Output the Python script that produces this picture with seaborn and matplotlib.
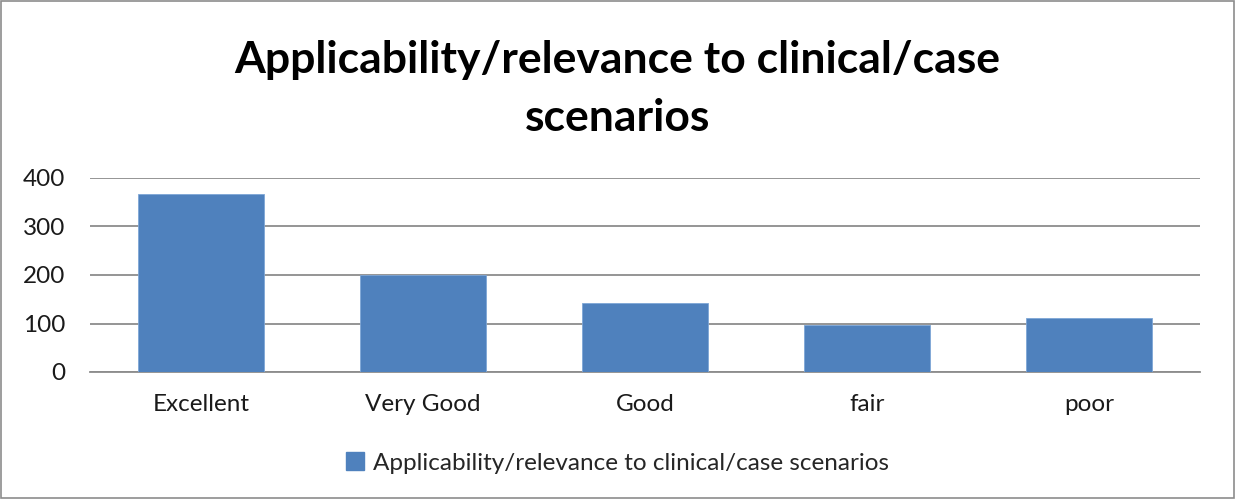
import matplotlib
matplotlib.use("Agg")
import matplotlib.pyplot as plt
import seaborn as sns
import pandas as pd
from matplotlib.patches import Patch, Rectangle

categories = ["Excellent", "Very Good", "Good", "fair", "poor"]
values = [368, 201, 142, 97, 111]
series_name = "Applicability/relevance to clinical/case scenarios"
title = "Applicability/relevance to clinical/case\nscenarios"
yticks = [0, 100, 200, 300, 400]

sns.set_theme(style="white")
plt.rcParams['font.family'] = ['Lato', 'DejaVu Sans']

df = pd.DataFrame({"category": categories, "value": values})
bar_color = "#4F81BD"

fig = plt.figure(figsize=(12.35, 4.99), dpi=100)
ax = fig.add_axes([90/1235, 1 - 372/499, 1110/1235, 194/499])
sns.barplot(data=df, x="category", y="value", color=bar_color, width=0.57,
            saturation=1, ax=ax, edgecolor="#7EA6D6", linewidth=0.6, zorder=3)

ax.set_ylim(0, 400)
ax.set_yticks(yticks)
ax.set_xlim(-0.5, len(categories) - 0.5)
ax.yaxis.grid(True, color="#8C8C8C", linewidth=1.3, zorder=0)
ax.set_axisbelow(True)
for s in ["top", "right", "left"]:
    ax.spines[s].set_visible(False)
ax.spines["bottom"].set_color("#8C8C8C")
ax.spines["bottom"].set_linewidth(1.3)
ax.set_xlabel("")
ax.set_ylabel("")
ax.tick_params(axis="x", length=0, pad=16, labelsize=17.5, labelcolor="#1a1a1a")
ax.tick_params(axis="y", length=0, pad=18, labelsize=17.5, labelcolor="#1a1a1a")

fig.text(0.5, 1 - 89/499, title, ha="center", va="center", fontsize=32,
         fontweight="bold", color="black", linespacing=1.55)

handle = Patch(facecolor=bar_color, edgecolor=bar_color)
fig.legend([handle], [series_name], loc="center", bbox_to_anchor=(0.5, 1 - 463/499),
           frameon=False, fontsize=17.5, handlelength=0.75, handleheight=0.75,
           handletextpad=0.35, borderaxespad=0)

fig.patches.append(Rectangle((1/1235, 1/499), 1233/1235, 497/499, transform=fig.transFigure,
                             fill=False, edgecolor="#8C8C8C", linewidth=1.2))

fig.savefig("out.png", dpi=100, facecolor="white")
